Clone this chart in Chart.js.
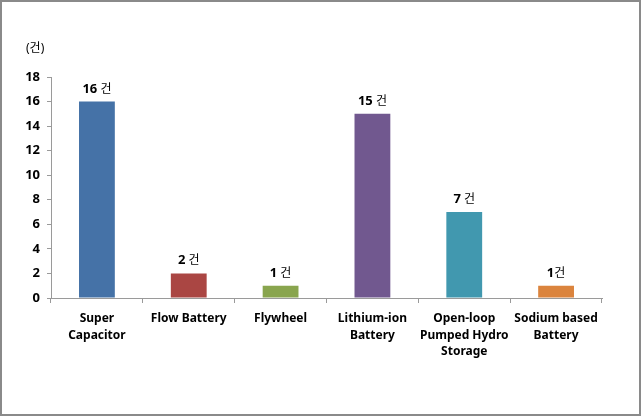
<!DOCTYPE html>
<html>
<head>
<meta charset="utf-8">
<script src="https://cdn.jsdelivr.net/npm/chart.js@4"></script>
<style>
  html, body { margin: 0; padding: 0; background: #fff; }
  #wrap { width: 641px; height: 416px; position: relative; }
</style>
</head>
<body>
<div id="wrap"><canvas id="chart" width="641" height="416"></canvas></div>
<script>
const categories = [
  ["Super", "Capacitor"],
  "Flow Battery",
  "Flywheel",
  ["Lithium-ion", "Battery"],
  ["Open-loop", "Pumped Hydro", "Storage"],
  ["Sodium based", "Battery"]
];
const counts = [16, 2, 1, 15, 7, 1];
const unitSuffix = [" 건", " 건", " 건", " 건", " 건", "건"];
const barColors = ["#4572A7", "#AA4643", "#89A54E", "#71588F", "#4198AF", "#DB843D"];
const yTicks = [0, 2, 4, 6, 8, 10, 12, 14, 16, 18];
const unitLabel = "(건)";

const FONT = "'Noto Sans', 'Noto Sans CJK KR', sans-serif";

// 🔥 border + unit + value labels
const decor = {
  id: "decor",
  beforeDraw(chart) {
    const ctx = chart.ctx;
    ctx.save();
    ctx.fillStyle = "#fff";
    ctx.fillRect(0, 0, chart.width, chart.height);
    ctx.strokeStyle = "#8a8a8a";
    ctx.lineWidth = 2;
    ctx.strokeRect(1, 1, chart.width - 2, chart.height - 2);
    ctx.restore();
  },
  afterDatasetsDraw(chart) {
    const ctx = chart.ctx;
    ctx.save();
    ctx.fillStyle = "#000";
    ctx.textBaseline = "alphabetic";

    ctx.font = "12px " + FONT;
    ctx.textAlign = "left";
    ctx.fillText(unitLabel, 26, 52);

    const meta = chart.getDatasetMeta(0);
    meta.data.forEach((bar, i) => {
      const num = String(counts[i]);
      const suf = unitSuffix[i];
      ctx.font = "bold 13px " + FONT;
      const w1 = ctx.measureText(num).width;
      ctx.font = "12px " + FONT;
      const w2 = ctx.measureText(suf).width;
      let x = bar.x - (w1 + w2) / 2;
      const y = bar.y - 9;
      ctx.font = "bold 13px " + FONT;
      ctx.fillText(num, x, y);
      ctx.font = "12px " + FONT;
      ctx.fillText(suf, x + w1, y);
    });
    ctx.restore();
  }
};

new Chart(document.getElementById("chart"), {
  type: "bar",
  data: {
    labels: categories,
    datasets: [{
      data: counts,
      backgroundColor: barColors,
      categoryPercentage: 1,
      barPercentage: 0.39
    }]
  },
  options: {
    responsive: false,
    animation: false,
    layout: { padding: { left: 0, right: 39, top: 77, bottom: 0 } },
    plugins: { legend: { display: false }, tooltip: { enabled: false } },
    scales: {
      x: {
        grid: { display: true, drawOnChartArea: false, offset: true, tickLength: 5, color: "#9a9a9a" },
        border: { color: "#9a9a9a" },
        ticks: { color: "#000", font: { family: FONT, size: 12, weight: "bold", lineHeight: 1.4 }, padding: 7, maxRotation: 0, autoSkip: false },
        afterFit(s) { s.height = 118; }
      },
      y: {
        min: 0,
        max: 18,
        afterBuildTicks(s) { s.ticks = yTicks.map(v => ({ value: v })); },
        grid: { display: true, drawOnChartArea: false, tickLength: 4, color: "#9a9a9a" },
        border: { color: "#9a9a9a" },
        ticks: { color: "#000", font: { family: FONT, size: 13, weight: "bold" }, padding: 7 },
        afterFit(s) { s.width = 51; }
      }
    }
  },
  plugins: [decor]
});
</script>
</body>
</html>
